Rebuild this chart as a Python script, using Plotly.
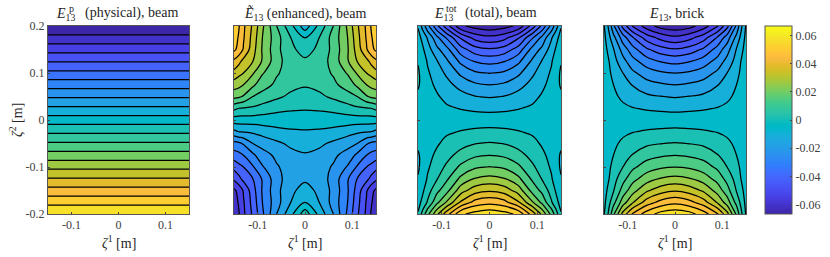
import numpy as np
import plotly.graph_objects as go

BAND = 0.00635
CMAX = 0.0667

# quadrant grid (x>=0, y>=0); the fields mirror in x and flip sign in y
x_q = [0, 0.03, 0.06, 0.09, 0.11, 0.13, 0.14, 0.15]
y_q = [0, 0.025, 0.05, 0.075, 0.1, 0.125, 0.15, 0.175, 0.2]

# values in contour-band units, rows follow y_q, columns follow x_q
physical = [[v] * 8 for v in [0, -1.31, -2.63, -3.94, -5.25, -6.56, -7.88, -9.19, -10.5]]
enhanced = [
    [0, 0, 0, 0, 0, 0, 0, 0],
    [0.59, 0.65, 0.8, 1.1, 1.35, 1.45, 1.5, 1.8],
    [1.12, 1.3, 1.7, 2.15, 2.5, 3.4, 3.7, 3.8],
    [1.6, 1.8, 2.3, 2.9, 3.7, 4.5, 4.8, 5.0],
    [2.05, 2.1, 2.6, 3.6, 4.6, 5.5, 5.8, 6.2],
    [1.65, 1.9, 2.9, 4.4, 5.5, 6.2, 6.8, 7.3],
    [1.15, 1.7, 2.8, 4.4, 5.9, 7.4, 8.2, 8.7],
    [0.5, 1.5, 2.9, 4.5, 6.1, 7.6, 8.4, 9.0],
    [-1.1, 0.8, 2.5, 4.7, 6.3, 7.7, 8.6, 9.4],
]
total = [
    [0, 0, 0, 0, 0, 0, 0, 0],
    [-0.77, -0.7, -0.55, -0.36, -0.2, -0.05, 0.05, 0.15],
    [-1.58, -1.48, -1.15, -0.76, -0.4, -0.1, 0.15, 0.35],
    [-2.5, -2.35, -1.87, -1.18, -0.7, -0.2, 0.25, 0.6],
    [-3.53, -3.35, -2.72, -1.67, -1.05, -0.35, 0.25, 0.6],
    [-4.83, -4.57, -3.75, -2.32, -1.45, -0.6, 0.05, 0.45],
    [-6.38, -6.07, -5.08, -3.15, -2.25, -1.05, -0.35, 0.15],
    [-8.2, -7.85, -6.65, -4.6, -3.25, -1.6, -0.8, -0.1],
    [-10.2, -9.9, -9.3, -7.05, -5.3, -3.2, -1.9, -0.6],
]
brick = [
    [0, 0, 0, 0, 0, 0, 0, 0],
    [-0.75, -0.68, -0.6, -0.46, -0.3, -0.1, -0.05, 0],
    [-1.57, -1.48, -1.32, -1.0, -0.7, -0.3, -0.1, 0],
    [-2.5, -2.37, -2.12, -1.54, -1.1, -0.5, -0.2, -0.05],
    [-3.5, -3.36, -3.0, -2.28, -1.5, -0.8, -0.3, -0.05],
    [-4.8, -4.57, -4.03, -3.12, -2.16, -1.1, -0.45, -0.1],
    [-6.4, -6.07, -5.32, -4.08, -2.93, -1.43, -0.75, -0.1],
    [-8.25, -7.82, -6.95, -5.35, -4.02, -2.15, -1.2, -0.2],
    [-10.2, -9.9, -9.0, -7.6, -5.85, -3.3, -1.7, -0.4],
]
panels = [physical, enhanced, total, brick]
cbar_ticks = [-0.06, -0.04, -0.02, 0, 0.02, 0.04, 0.06]
cbar_labels = ["-0.06", "-0.04", "-0.02", "0", "0.02", "0.04", "0.06"]
x_ticks = [-0.1, 0, 0.1]
x_labels = ["-0.1", "0", "0.1"]
y_ticks = [-0.2, -0.1, 0, 0.1, 0.2]
y_labels = ["-0.2", "-0.1", "0", "0.1", "0.2"]

parula = np.array([
    [0.2422,0.1504,0.6603],[0.2504,0.1650,0.7076],[0.2578,0.1818,0.7511],[0.2647,0.1978,0.7952],
    [0.2706,0.2147,0.8364],[0.2751,0.2342,0.8710],[0.2783,0.2559,0.8991],[0.2803,0.2782,0.9221],
    [0.2813,0.3006,0.9414],[0.2810,0.3228,0.9579],[0.2795,0.3447,0.9717],[0.2760,0.3667,0.9829],
    [0.2699,0.3892,0.9906],[0.2602,0.4123,0.9952],[0.2440,0.4358,0.9988],[0.2206,0.4603,0.9973],
    [0.1963,0.4847,0.9892],[0.1834,0.5074,0.9798],[0.1786,0.5289,0.9682],[0.1764,0.5499,0.9520],
    [0.1687,0.5703,0.9359],[0.1540,0.5902,0.9218],[0.1460,0.6091,0.9079],[0.1380,0.6276,0.8973],
    [0.1248,0.6459,0.8883],[0.1113,0.6635,0.8763],[0.0952,0.6798,0.8598],[0.0689,0.6948,0.8394],
    [0.0297,0.7082,0.8163],[0.0036,0.7203,0.7917],[0.0067,0.7312,0.7660],[0.0433,0.7411,0.7394],
    [0.0964,0.7500,0.7120],[0.1408,0.7584,0.6842],[0.1717,0.7670,0.6554],[0.1938,0.7758,0.6251],
    [0.2161,0.7843,0.5923],[0.2470,0.7918,0.5567],[0.2906,0.7973,0.5188],[0.3406,0.8008,0.4789],
    [0.3909,0.8029,0.4354],[0.4456,0.8024,0.3909],[0.5044,0.7993,0.3480],[0.5616,0.7942,0.3045],
    [0.6174,0.7876,0.2612],[0.6720,0.7793,0.2227],[0.7242,0.7698,0.1910],[0.7738,0.7598,0.1646],
    [0.8203,0.7498,0.1535],[0.8634,0.7406,0.1596],[0.9035,0.7330,0.1774],[0.9393,0.7288,0.2100],
    [0.9728,0.7298,0.2394],[0.9956,0.7434,0.2371],[0.9970,0.7659,0.2199],[0.9952,0.7893,0.2028],
    [0.9892,0.8136,0.1885],[0.9786,0.8386,0.1766],[0.9676,0.8639,0.1643],[0.9610,0.8890,0.1537],
    [0.9597,0.9135,0.1423],[0.9628,0.9373,0.1265],[0.9691,0.9606,0.1064],[0.9769,0.9839,0.0805],
])


def rgb(t):
    p = t * (len(parula) - 1)
    c = [np.interp(p, np.arange(len(parula)), parula[:, k]) for k in range(3)]
    return "rgb(%d,%d,%d)" % tuple(round(v * 255) for v in c)


bar_scale = [[i / 63, rgb(i / 63)] for i in range(64)]
# each filled band takes the colour of its lower level (21 bands)
band_scale = [[j / 20, rgb(j / 21.5)] for j in range(21)]

W, H = 830, 257
TOP, BOT = 26, 214
boxes = [(48, 189), (234, 376), (418, 561), (604, 746)]
FONT = "Liberation Serif"
INK = "#404040"


def full_field(q):
    q = np.array(q, dtype=float) * BAND
    right = np.concatenate([q[:, :0:-1], q], axis=1)  # mirror in x
    return np.concatenate([-right[:0:-1], right], axis=0)  # antisymmetric in y


xs = [-v for v in x_q[:0:-1]] + x_q
ys = [-v for v in y_q[:0:-1]] + y_q

fig = go.Figure()
layout = {}
for i, (q, (x0, x1)) in enumerate(zip(panels, boxes), start=1):
    fig.add_trace(go.Contour(
        x=xs, y=ys, z=full_field(q), xaxis=f"x{i}", yaxis=f"y{i}",
        colorscale=band_scale, showscale=False,
        autocontour=False,
        contours=dict(start=-9.5 * BAND, end=9.5 * BAND, size=BAND, coloring="fill"),
        line=dict(color="black", width=1.25, smoothing=1),
        hoverinfo="skip",
    ))
    common = dict(showline=True, mirror=True, linecolor="#555555", linewidth=1, ticks="inside",
                  ticklen=2, tickcolor="#444444", tickwidth=1, showgrid=False, zeroline=False,
                  tickfont=dict(family=FONT, size=12, color=INK))
    layout[f"xaxis{i}"] = dict(domain=[x0 / W, x1 / W], range=[-0.15, 0.15], anchor=f"y{i}",
                               tickvals=x_ticks, ticktext=x_labels, **common)
    layout[f"yaxis{i}"] = dict(domain=[1 - BOT / H, 1 - TOP / H], range=[-0.2, 0.2], anchor=f"x{i}",
                               tickvals=y_ticks, ticktext=y_labels if i == 1 else [""] * 5, **common)

# hidden carrier for the continuous colour bar
fig.add_trace(go.Heatmap(
    z=[[-CMAX, CMAX]], xaxis="x5", yaxis="y5", colorscale=bar_scale, zmin=-CMAX, zmax=CMAX,
    hoverinfo="skip",
    colorbar=dict(x=765 / W, xanchor="left", y=1 - TOP / H, yanchor="top", len=(BOT - TOP) / H,
                  lenmode="fraction", thickness=27, thicknessmode="pixels", xpad=0, ypad=0,
                  outlinecolor="#555555", outlinewidth=1, ticks="inside", ticklen=2, tickcolor="#444444",
                  tickvals=cbar_ticks, ticktext=cbar_labels,
                  tickfont=dict(family=FONT, size=12, color=INK)),
))
layout["xaxis5"] = dict(domain=[770 / W, 780 / W], visible=False, anchor="y5")
layout["yaxis5"] = dict(domain=[0.5, 0.6], visible=False, anchor="x5")


def note(text, x, y, size=14, anchor="center", **kw):
    return dict(text=text, x=x / W, y=1 - y / H, xref="paper", yref="paper",
                xanchor=anchor, yanchor="middle", showarrow=False,
                font=dict(family=FONT, size=size, color="#262626"), **kw)


notes = [
    note("<i>E</i><sub>13</sub>", 54, 14, anchor="left"),
    note("p", 67, 8, size=10, anchor="left"),
    note("(physical), beam", 83, 13, anchor="left"),
    note("<i>Ẽ</i><sub>13</sub> (enhanced), beam", 305, 14),
    note("<i>E</i><sub>13</sub>", 432, 14, anchor="left"),
    note("tot", 444, 8, size=10, anchor="left"),
    note("(total), beam", 463, 13, anchor="left"),
    note("<i>E</i><sub>13</sub>, brick", 676, 14),
]
for cx in [119, 305, 490, 675]:
    notes.append(note("<i>ζ</i><sup>1</sup> [m]", cx, 242, size=14))
notes.append(note("<i>ζ</i><sup>2</sup> [m]", 16, 120, size=14, textangle=-90))

fig.update_layout(width=W, height=H, margin=dict(l=0, r=0, t=0, b=0, autoexpand=False), paper_bgcolor="white",
                  plot_bgcolor="white", showlegend=False, annotations=notes, **layout)
fig.write_html("out.html", post_script="document.body.style.margin='0';", config={"displayModeBar": False})
